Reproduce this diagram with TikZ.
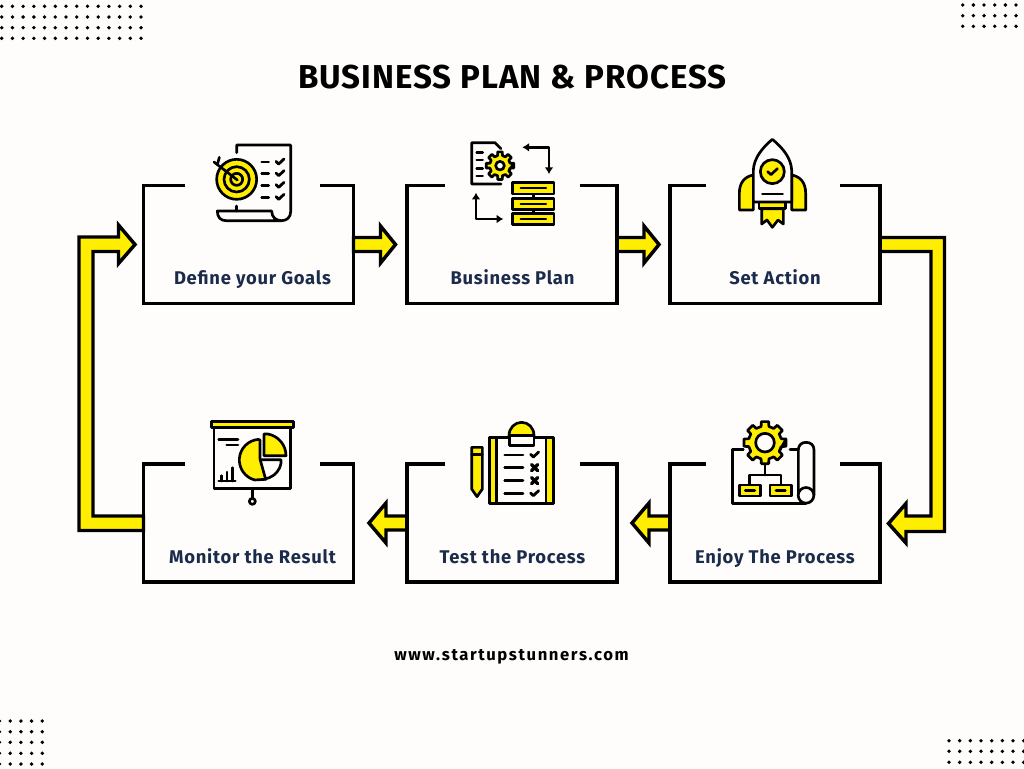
\documentclass[tikz,border=0pt]{standalone}
\usepackage{fontspec}
\usetikzlibrary{arrows.meta,calc}
\setmainfont{Fira Sans}
\newfontfamily\titlefont[LetterSpace=3.0]{Fira Sans}
\newfontfamily\lblfont[LetterSpace=4.0]{Fira Sans}
\newfontfamily\webfont[LetterSpace=9.5]{Fira Sans}
\definecolor{bgc}{HTML}{FEFDFB}
\definecolor{yel}{HTML}{FFEE00}
\definecolor{navy}{HTML}{1B2B4B}
\tikzset{
  boxarea/.style={minimum width=157.5pt,minimum height=88.5pt,inner sep=0pt,outer sep=0pt},
  frame/.style={line width=2.4pt,black,miter limit=10},
  blockarrow/.style={fill=yel,draw=black,line width=2.6pt,line join=miter,miter limit=10},
  steplabel/.style={font=\lblfont\bfseries\fontsize{13.8}{16}\selectfont,text=navy,inner sep=0pt,anchor=base},
  ic/.style={draw=black,line width=2pt,line cap=round,line join=round},
  icy/.style={ic,fill=yel},
  icw/.style={ic,fill=bgc},
  dotc/.style={fill=black,draw=none},
}
\newcommand{\chkmark}[2]{\draw[ic,line width=2.1pt] (#1,#2) ++(0,-2) -- ++(8,8) -- ++(16,-15);}
\newcommand{\xmark}[2]{\draw[ic,line width=2.5pt] (#1,#2) ++(-9,-9) -- ++(18,18) ++(-18,0) -- ++(18,-18);}
\newcommand{\geartooth}[6]{% cx cy R r hole teeth
  \draw[icy] ({#1+#3*cos(-360/#6*0.22)},{#2+#3*sin(-360/#6*0.22)}) \foreach \k in {0,...,#6}{
    -- ({#1+#3*cos(360*\k/#6-360/#6*0.22)},{#2+#3*sin(360*\k/#6-360/#6*0.22)})
    -- ({#1+#3*cos(360*\k/#6+360/#6*0.22)},{#2+#3*sin(360*\k/#6+360/#6*0.22)})
    -- ({#1+#4*cos(360*\k/#6+360/#6*0.3)},{#2+#4*sin(360*\k/#6+360/#6*0.3)})
    -- ({#1+#4*cos(360*\k/#6+360/#6*0.7)},{#2+#4*sin(360*\k/#6+360/#6*0.7)})
  } -- cycle;
  \draw[icw] (#1,#2) circle (#5);
}
\newcommand{\openframe}[3]{\draw[frame] ([xshift=#2*0.75pt]#1.north west) -- (#1.north west) -- (#1.south west) -- (#1.south east) -- (#1.north east) -- ([xshift=-#3*0.75pt]#1.north east);}
\begin{document}
\begin{tikzpicture}[x=0.75pt,y=-0.75pt]
\useasboundingbox (0,0) rectangle (1024,768);
\fill[bgc] (0,0) rectangle (1024,768);

% dots
\foreach \i in {0,...,13}\foreach \yy in {6.3,17,27.7,38.3}{\fill[dotc] ({1.7+10.72*\i},\yy) circle (1.9);}
\foreach \i in {0,...,5}\foreach \yy in {5,15.7,26.3}{\fill[dotc] ({962.7+10.67*\i},\yy) circle (1.9);}
\foreach \i in {0,...,4}\foreach \yy in {721,731.7,742.3,753.3,764}{\fill[dotc] ({-0.5+10.7*\i},\yy) circle (1.9);}
\foreach \i in {0,...,7}\foreach \yy in {740.7,751.3,762.3}{\fill[dotc] ({949+10.67*\i},\yy) circle (1.9);}

% title
\node[font=\titlefont\bfseries\fontsize{24.8}{28}\selectfont,inner sep=0pt,anchor=base] (title) at (512.5,88.5) {BUSINESS PLAN \& PROCESS};
\node[font=\webfont\bfseries\fontsize{12.5}{14}\selectfont,inner sep=0pt,anchor=base] (web) at (511.5,660.5) {www.startupstunners.com};

% box areas
\node[boxarea] (b1) at (248.5,244.5) {};
\node[boxarea] (b2) at (512,244.5) {};
\node[boxarea] (b3) at (775,244.5) {};
\node[boxarea] (b4) at (248.5,523) {};
\node[boxarea] (b5) at (512,523) {};
\node[boxarea] (b6) at (775,523) {};

% arrows between boxes
\draw[blockarrow] (b1.east) ++(0,-7) -- ++(27,0) -- ++(0,-11.5) -- ++(15,18.5) -- ++(-15,18.5) -- ++(0,-11.5) -- ++(-27,0) -- cycle;
\draw[blockarrow] (b2.east) ++(0,-7) -- ++(27,0) -- ++(0,-11.5) -- ++(15,18.5) -- ++(-15,18.5) -- ++(0,-11.5) -- ++(-27,0) -- cycle;
\draw[blockarrow] (b6.west) ++(0,-7) -- ++(-21,0) -- ++(0,-13) -- ++(-17,20) -- ++(17,20) -- ++(0,-13) -- ++(21,0) -- cycle;
\draw[blockarrow] (b5.west) ++(0,-7) -- ++(-21,0) -- ++(0,-13) -- ++(-17,20) -- ++(17,20) -- ++(0,-13) -- ++(21,0) -- cycle;
% right long arrow
\draw[blockarrow] (b3.east) ++(0,-7) -- (944.5,237.5) -- (944.5,531.5) -- (906,531.5) -- (906,543) -- (888.5,523.5) -- (906,503.5) -- (906,516) -- (931,516) -- (931,251.5) -- ($(b3.east)+(0,7)$) -- cycle;
% left long arrow
\draw[blockarrow] (b4.west) ++(0,7.5) -- (79,530.5) -- (79,237) -- (118.5,237) -- (118.5,225) -- (135,244.5) -- (118.5,263.5) -- (118.5,251.5) -- (93,251.5) -- (93,516) -- ($(b4.west)+(0,-7)$) -- cycle;

% frames
\openframe{b1}{41}{34}
\openframe{b2}{38}{37}
\openframe{b3}{36}{40}
\openframe{b4}{41}{34}
\openframe{b5}{38}{37}
\openframe{b6}{36}{40}

% labels
\node[steplabel] (l1) at (252.5,284.5) {Define your Goals};
\node[steplabel] (l2) at (512.5,284.5) {Business Plan};
\node[steplabel] (l3) at (775,284.5) {Set Action};
\node[steplabel] (l4) at (252.5,563.5) {Monitor the Result};
\node[steplabel] (l5) at (512.5,563.5) {Test the Process};
\node[steplabel] (l6) at (775,563.5) {Enjoy The Process};

% icon 1: target and list
\begin{scope}[shift={(130,130)},x=0.25pt,y=-0.25pt]
  \draw[ic] (320,68) -- (320,45) -- (482,45) -- (482,245) .. controls (482,262) and (470,272) .. (455,272) .. controls (438,272) and (425,262) .. (425,243) -- (262,243) .. controls (262,262) and (272,272) .. (288,272) -- (455,272);
  \draw[ic] (320,228) -- (320,243);
  \draw[icy] (320,148) circle (60);
  \draw[icy,fill=none] (320,148) circle (38);
  \draw[icy,fill=none] (320,148) circle (18);
  \draw[ic] (252,96) -- (322,150);
  \draw[ic] (268,82) -- (262,104);
  \foreach \yy in {96,131,166,202}{
    \draw[ic] (395,\yy) -- (416,\yy);
    \chkmark{438}{\yy}
  }
\end{scope}

% icon 2: plan
\begin{scope}[shift={(440,130)},x=0.25pt,y=-0.25pt]
  \draw[ic] (183,56) -- (165,38) -- (95,38) -- (95,162) -- (183,162);
  \foreach \yy in {68,90,115,138}{\draw[ic] (110,\yy) -- (128,\yy);}
  \geartooth{180}{107}{42}{31}{13}{8}
  \draw[ic,{Latex[length=5pt,width=6.5pt]}-{Latex[length=5pt,width=6.5pt]}] (327,132) -- (327,52) -- (247,52);
  \draw[ic,{Latex[length=5pt,width=6.5pt]}-{Latex[length=5pt,width=6.5pt]}] (108,188) -- (108,267) -- (190,267);
  \draw[ic] (280,192) -- (280,250);
  \foreach \yy in {158,205,250}{
    \draw[icy,line width=2pt] (217,\yy) rectangle (342,\yy+34);
    \draw[ic,line width=1.5pt] (242,\yy+17) -- (318,\yy+17);
  }
\end{scope}

% icon 3: rocket
\begin{scope}[shift={(720,130)},x=0.25pt,y=-0.25pt]
  \draw[icy] (100,135) .. controls (72,140) and (58,160) .. (58,190) -- (58,240) -- (100,240) -- cycle;
  \draw[icy] (215,135) .. controls (243,140) and (257,160) .. (257,190) -- (257,240) -- (215,240) -- cycle;
  \draw[icy] (125,236) -- (125,282) -- (141,270) -- (157,292) -- (174,270) -- (190,282) -- (190,236) -- cycle;
  \draw[icy] (117,216) rectangle (197,236);
  \draw[icw] (100,216) -- (100,120) .. controls (102,85) and (125,55) .. (157,28) .. controls (190,55) and (213,85) .. (215,120) -- (215,216) -- cycle;
  \draw[icy] (157,125) circle (36);
  \draw[ic] (143,125) -- (153,134) -- (172,116);
  \draw[ic] (127,192) -- (188,192);
\end{scope}

% icon 4: blueprint and gear
\begin{scope}[shift={(720,415)},x=0.25pt,y=-0.25pt]
  \draw[ic] (70,103) -- (37,103) -- (37,265) -- (258,265);
  \draw[ic] (210,103) -- (235,103);
  \draw[icw] (235,240) -- (235,105) .. controls (235,90) and (245,82) .. (258,82) .. controls (272,82) and (282,90) .. (282,105) -- (282,240);
  \draw[icw] (258,241) circle (23.5);
  \geartooth{135}{83}{64}{50}{28}{8}
  \draw[ic] (135,148) -- (135,180);
  \draw[ic] (88,210) -- (88,180) -- (183,180) -- (183,210);
  \foreach \xx in {58,150}{
    \draw[icy] (\xx,210) rectangle (\xx+64,243);
    \draw[ic] (\xx+18,226.5) -- (\xx+46,226.5);
  }
\end{scope}

% icon 5: clipboard and pencil
\begin{scope}[shift={(460,415)},x=0.25pt,y=-0.25pt]
  \draw[icy] (35,97) -- (67,97) -- (67,222) -- (51,245) -- (35,222) -- cycle;
  \draw[ic] (35,118) -- (67,118);
  \draw[icy] (88,68) rectangle (280,265);
  \draw[icw] (110,68) rectangle (258,265);
  \draw[icy] (147,62) .. controls (147,38) and (165,22) .. (185,22) .. controls (205,22) and (222,38) .. (222,62) -- cycle;
  \draw[icw] (148,62) rectangle (222,92);
  \foreach \yy in {120,158,197,236}{\draw[ic] (134,\yy) -- (189,\yy);}
  \chkmark{212}{120}
  \xmark{224}{158}
  \xmark{224}{197}
  \chkmark{212}{236}
\end{scope}

% icon 6: presentation
\begin{scope}[shift={(200,415)},x=0.25pt,y=-0.25pt]
  \draw[icw] (42,37) rectangle (272,220);
  \draw[icy] (35,20) rectangle (280,37);
  \draw[ic] (157,220) -- (157,250);
  \draw[icw] (157,259) circle (9);
  \draw[ic] (56,73) -- (114,73);
  \draw[ic] (80,90) -- (114,90);
  \draw[ic] (56,198) -- (106,198);
  \draw[ic] (65,198) -- (65,182);
  \draw[ic] (81,198) -- (81,171);
  \draw[ic] (97,198) -- (97,158);
  % white slice outline
  \draw[ic] (183,134) -- (243,134) \foreach \a in {10,25,40,55,70,80}{ -- ({187+57*cos(\a)},{135+57*sin(\a)})} -- (197,193);
  % big yellow slice
  \draw[icy] (180,132) -- (180,75) \foreach \a in {265,255,...,105}{ -- ({180+62*cos(\a)},{135+62*sin(\a)})} -- (197,193) -- cycle;
  % small yellow slice
  \draw[icy] (192,122) -- (192,57) \foreach \a in {-80,-70,...,-10}{ -- ({192+66*cos(\a)},{122+66*sin(\a)})} -- (258,122) -- cycle;
\end{scope}
\end{tikzpicture}
\end{document}
